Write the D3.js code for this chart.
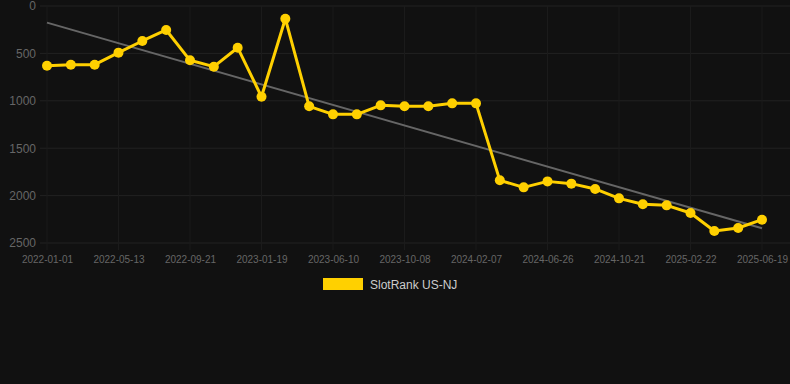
<!DOCTYPE html>
<html>
<head>
<meta charset="utf-8">
<script src="https://cdn.jsdelivr.net/npm/d3@7"></script>
<style>
  body { margin: 0; background: #111111; }
  svg { display: block; font-family: "Liberation Sans", Arial, sans-serif; }
</style>
</head>
<body>
<script>
// rank per period (lower = better)
const ranks = [630, 619, 619, 492, 369, 253, 573, 640, 440, 957, 134,
  1058, 1143, 1143, 1048, 1058, 1058, 1027, 1027,
  1839, 1913, 1850, 1874, 1930, 2029, 2092, 2103, 2184, 2373, 2342, 2254];
// labels shown on the x axis (every third point)
const tickLabels = ['2022-01-01', '2022-05-13', '2022-09-21', '2023-01-19', '2023-06-10',
  '2023-10-08', '2024-02-07', '2024-06-26', '2024-10-21', '2025-02-22', '2025-06-19'];
const yTicks = [0, 500, 1000, 1500, 2000, 2500];
const seriesName = 'SlotRank US-NJ';

const w = 790, h = 384;
const padL = 47, padR = 762, padT = 6, padB = 243;

const svg = d3.select('body').append('svg')
  .attr('width', w)
  .attr('height', h)
  .style('background-color', '#111111');

const idx = d3.range(ranks.length);
const x = d3.scalePoint().domain(idx).range([padL, padR]);
const y = d3.scaleLinear().domain([0, 2500]).range([padT, padB]);

// grid
svg.append('g')
  .selectAll('line')
  .data(yTicks)
  .enter()
  .append('line')
  .attr('x1', padL - 7).attr('x2', w)
  .attr('y1', d => y(d)).attr('y2', d => y(d))
  .attr('stroke', '#222')
  .attr('stroke-width', 1);

const xTickIdx = idx.filter(i => i % 3 === 0);
svg.append('g')
  .selectAll('line')
  .data(xTickIdx)
  .enter()
  .append('line')
  .attr('x1', d => x(d)).attr('x2', d => x(d))
  .attr('y1', padT).attr('y2', padB + 7)
  .attr('stroke', '#1b1b1b')
  .attr('stroke-width', 1);

// axes
const yAxis = svg.append('g')
  .attr('transform', `translate(${padL - 11},0)`)
  .call(d3.axisLeft(y).tickValues(yTicks).tickSize(0).tickPadding(0).tickFormat(d3.format('d')));
yAxis.select('.domain').remove();
yAxis.selectAll('text').attr('fill', '#666').attr('font-size', 12);

const xAxis = svg.append('g')
  .attr('transform', `translate(0,${padB + 7})`)
  .call(d3.axisBottom(x).tickValues(xTickIdx).tickSize(0).tickPadding(6)
    .tickFormat(d => tickLabels[d / 3]));
xAxis.select('.domain').remove();
xAxis.selectAll('text').attr('fill', '#666').attr('font-size', 10);

// trend line (least squares)
const mx = d3.mean(idx), my = d3.mean(ranks);
const slope = d3.sum(idx, i => (i - mx) * (ranks[i] - my)) / d3.sum(idx, i => (i - mx) ** 2);
const trend = i => my + slope * (i - mx);
svg.append('line')
  .attr('x1', x(0)).attr('y1', y(trend(0)))
  .attr('x2', x(idx.length - 1)).attr('y2', y(trend(idx.length - 1)))
  .attr('stroke', '#666')
  .attr('stroke-width', 2);

// series
svg.append('path')
  .datum(idx)
  .attr('fill', 'none')
  .attr('stroke', '#ffd000')
  .attr('stroke-width', 3)
  .attr('stroke-linejoin', 'round')
  .attr('d', d3.line().x(i => x(i)).y(i => y(ranks[i])));

svg.selectAll('circle')
  .data(idx)
  .enter()
  .append('circle')
  .attr('cx', i => x(i))
  .attr('cy', i => y(ranks[i]))
  .attr('r', 5)
  .attr('fill', '#ffd000');

// legend
svg.append('rect')
  .attr('x', 323).attr('y', 278)
  .attr('width', 40).attr('height', 12)
  .attr('fill', '#ffd000');
svg.append('text')
  .attr('x', 370).attr('y', 288.5)
  .attr('fill', '#ccc')
  .attr('font-size', 12)
  .text(seriesName);
</script>
</body>
</html>
